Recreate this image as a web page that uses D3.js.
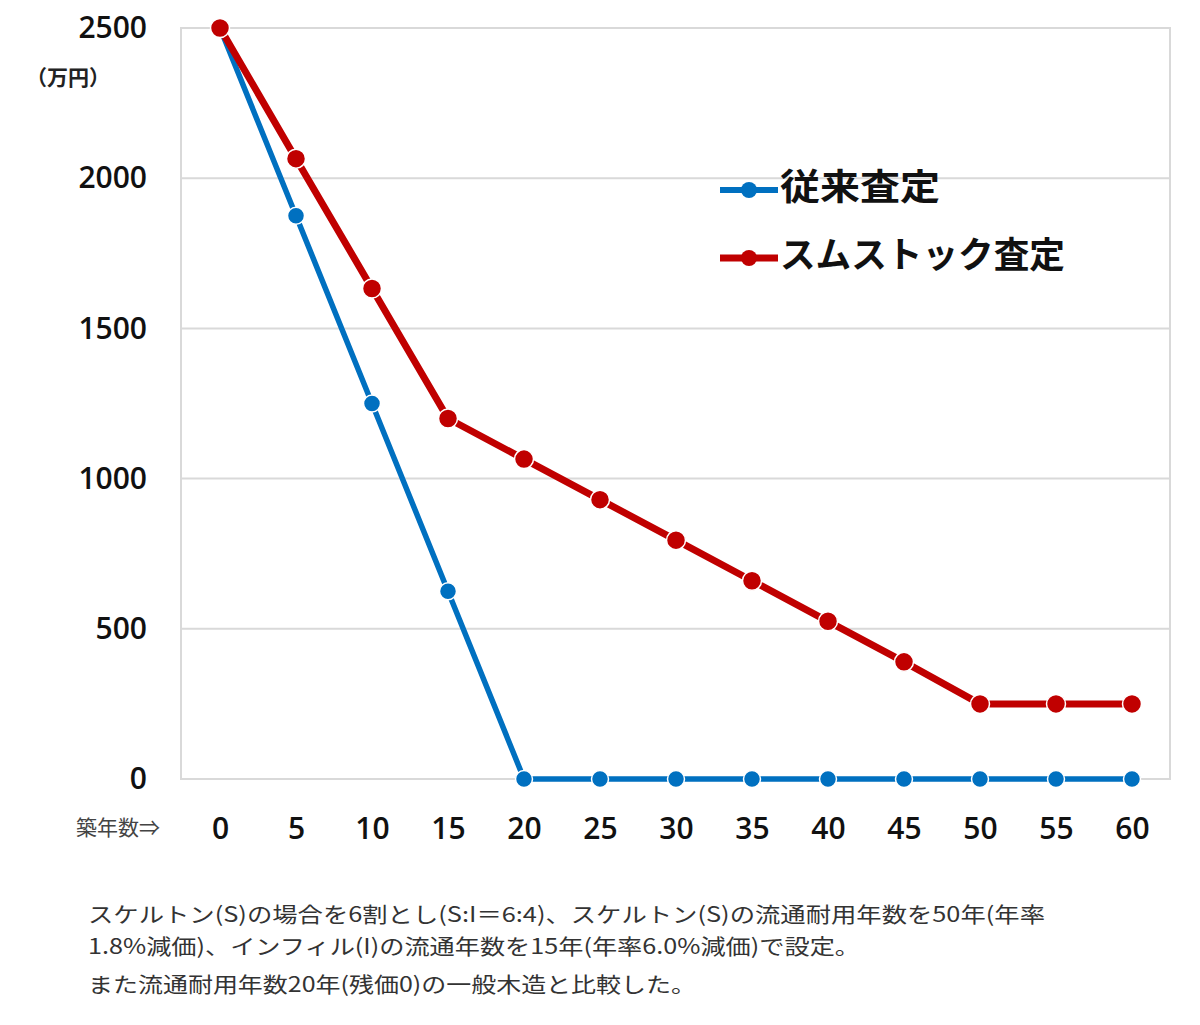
<!DOCTYPE html>
<html>
<head>
<meta charset="utf-8">
<title>築年数と建物評価額</title>
<style>
  body { margin: 0; background: #fff; }
  text { font-family: 'Open Sans', 'Noto Sans CJK JP', sans-serif; }
  .jp { font-family: 'Noto Sans CJK JP', sans-serif; }
</style>
<script src="https://d3js.org/d3.v7.min.js"></script>
</head>
<body>
<div id="chart"></div>
<script>
// ******* Data *******
const years = [0, 5, 10, 15, 20, 25, 30, 35, 40, 45, 50, 55, 60];
const conventional = [2500, 1875, 1250, 625, 0, 0, 0, 0, 0, 0, 0, 0, 0];
const sumstock = [2500, 2065, 1633, 1200, 1065, 930, 795, 660, 525, 390, 250, 250, 250];
const yTicks = [0, 500, 1000, 1500, 2000, 2500];
const seriesNames = ["従来査定", "スムストック査定"];
const notes = [
  "スケルトン(S)の場合を6割とし(S:I＝6:4)、スケルトン(S)の流通耐用年数を50年(年率",
  "1.8%減価)、インフィル(I)の流通年数を15年(年率6.0%減価)で設定。",
  "また流通耐用年数20年(残価0)の一般木造と比較した。"
];

// ******* Constants *******
const width = 1200, height = 1025;
const plot = { left: 181, right: 1170, top: 28, bottom: 779 };
const colors = ["#0070c0", "#c00000"];

const svg = d3.select("#chart").append("svg")
    .attr("width", width)
    .attr("height", height);

// ******* Scales *******
const x = d3.scaleLinear().domain([0, 60]).range([220, 1132]);
const y = d3.scaleLinear().domain([0, 2500]).range([plot.bottom, plot.top]);

// ******* Grid + frame *******
svg.append("g").selectAll("line")
  .data(yTicks)
  .join("line")
    .attr("x1", plot.left).attr("x2", plot.right)
    .attr("y1", d => y(d)).attr("y2", d => y(d))
    .attr("stroke", "#d9d9d9").attr("stroke-width", 2);

svg.append("rect")
    .attr("x", plot.left).attr("y", plot.top)
    .attr("width", plot.right - plot.left).attr("height", plot.bottom - plot.top)
    .attr("fill", "none").attr("stroke", "#d9d9d9").attr("stroke-width", 2);

// ******* Axes (labels only) *******
const yAxis = svg.append("g")
    .attr("transform", `translate(147,0)`)
    .call(d3.axisLeft(y).tickValues(yTicks).tickFormat(d3.format("d")).tickSize(0).tickPadding(0));
yAxis.select(".domain").remove();
yAxis.selectAll("text")
    .attr("font-size", 30).attr("font-weight", 600).attr("fill", "#111")
    .attr("font-family", "'Open Sans', sans-serif");

const xAxis = svg.append("g")
    .attr("transform", `translate(0,828)`)
    .call(d3.axisBottom(x).tickValues(years).tickSize(0).tickPadding(0));
xAxis.select(".domain").remove();
xAxis.selectAll("text")
    .attr("dy", "0.35em")
    .attr("font-size", 30).attr("font-weight", 600).attr("fill", "#111")
    .attr("font-family", "'Open Sans', sans-serif");

svg.append("text")
    .attr("class", "jp")
    .attr("x", 160).attr("y", 829)
    .attr("text-anchor", "end").attr("dominant-baseline", "middle")
    .attr("font-size", 21).attr("fill", "#444")
    .text("築年数⇒");

svg.append("text")
    .attr("class", "jp")
    .attr("x", 26).attr("y", 79)
    .attr("dominant-baseline", "middle")
    .attr("font-size", 21).attr("font-weight", 700).attr("fill", "#222")
    .text("（万円）");

// ******* Series *******
const line = d3.line()
    .x((d, i) => x(years[i]))
    .y(d => y(d));

[conventional, sumstock].forEach((vals, k) => {
  svg.append("path")
      .datum(vals)
      .attr("d", line)
      .attr("fill", "none")
      .attr("stroke", colors[k])
      .attr("stroke-width", k === 0 ? 5.5 : 7)
      .attr("stroke-linejoin", "round");
  svg.append("g").selectAll("circle")
    .data(vals)
    .join("circle")
      .attr("cx", (d, i) => x(years[i]))
      .attr("cy", d => y(d))
      .attr("r", k === 0 ? 8.5 : 9.5)
      .attr("fill", colors[k])
      .attr("stroke", "#fff")
      .attr("stroke-width", 1.5);
});

// ******* Legend *******
const legendY = [190, 258];
const legendW = [160, 285];
seriesNames.forEach((name, k) => {
  const g = svg.append("g").attr("transform", `translate(720,${legendY[k]})`);
  g.append("line")
      .attr("x1", 0).attr("x2", 58)
      .attr("stroke", colors[k]).attr("stroke-width", k === 0 ? 6 : 7);
  g.append("circle")
      .attr("cx", 29).attr("r", 8)
      .attr("fill", colors[k]);
  g.append("text")
      .attr("class", "jp")
      .attr("x", 60).attr("dominant-baseline", "middle")
      .attr("font-size", 36).attr("font-weight", 700).attr("fill", "#111")
      .attr("textLength", legendW[k]).attr("lengthAdjust", "spacingAndGlyphs")
      .text(name);
});

// ******* Notes *******
const noteY = [916, 948, 986];
const noteW = [957, 772, 608];
notes.forEach((t, i) => {
  svg.append("text")
      .attr("class", "jp")
      .attr("x", 88).attr("y", noteY[i])
      .attr("dominant-baseline", "middle")
      .attr("font-size", 21).attr("fill", "#333")
      .attr("textLength", noteW[i]).attr("lengthAdjust", "spacingAndGlyphs")
      .text(t);
});
</script>
</body>
</html>
